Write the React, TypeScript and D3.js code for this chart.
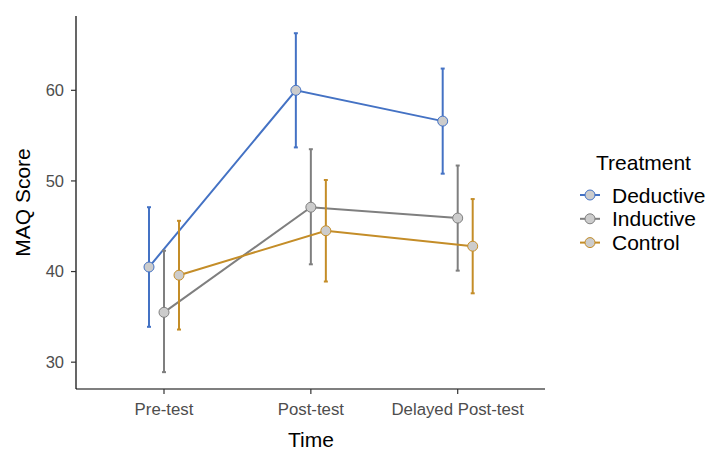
import React from "react";
import * as d3 from "d3";

const times = ["Pre-test", "Post-test", "Delayed Post-test"];
const groups = ["Deductive", "Inductive", "Control"];
const colors = ["#4472c4", "#7f7f7f", "#c48d28"];

const means = [
  [40.5, 60.0, 56.6],
  [35.5, 47.1, 45.9],
  [39.6, 44.5, 42.8],
];
const upper = [
  [47.1, 66.3, 62.4],
  [42.3, 53.5, 51.7],
  [45.6, 50.1, 48.0],
];
const lower = [
  [33.9, 53.7, 50.8],
  [28.9, 40.8, 40.1],
  [33.6, 38.9, 37.6],
];
const yTicks = [30, 40, 50, 60];

const W = 708;
const H = 450;
const left = 76;
const right = 545;
const top = 16;
const bottom = 389;
const font = "'Liberation Sans', Arial, sans-serif";

export default function App() {
  const x = d3.scalePoint<string>().domain(times).range([164, 457.7]);
  const y = d3.scaleLinear().domain([27.04, 68.2]).range([bottom, top]);
  const dodge = d3.scalePoint<string>().domain(groups).range([-15, 15]);
  const line = d3
    .line<number>()
    .x((_, i) => x(times[i])!)
    .y((d) => y(d));

  return (
    <svg width={W} height={H} style={{ position: "absolute", left: 0, top: 0 }}>
      <rect width={W} height={H} fill="#fff" />
      {groups.map((g, gi) => {
        const dx = dodge(g)!;
        return (
          <g key={g} transform={`translate(${dx},0)`}>
            <path d={line(means[gi])!} fill="none" stroke={colors[gi]} strokeWidth={2} />
            {times.map((t, ti) => (
              <g key={t} stroke={colors[gi]} strokeWidth={2}>
                <line x1={x(t)} x2={x(t)} y1={y(lower[gi][ti])} y2={y(upper[gi][ti])} />
                <line x1={x(t)! - 2} x2={x(t)! + 2} y1={y(lower[gi][ti])} y2={y(lower[gi][ti])} />
                <line x1={x(t)! - 2} x2={x(t)! + 2} y1={y(upper[gi][ti])} y2={y(upper[gi][ti])} />
              </g>
            ))}
            {times.map((t, ti) => (
              <circle
                key={t}
                cx={x(t)}
                cy={y(means[gi][ti])}
                r={5}
                fill="#cccccc"
                stroke={colors[gi]}
                strokeWidth={1}
              />
            ))}
          </g>
        );
      })}
      <line x1={left} x2={left} y1={top} y2={bottom} stroke="#000" strokeWidth={1.2} />
      <line x1={left} x2={right} y1={bottom} y2={bottom} stroke="#000" strokeWidth={1.2} />
      {yTicks.map((t) => (
        <g key={t}>
          <line x1={left - 5} x2={left} y1={y(t)} y2={y(t)} stroke="#333" strokeWidth={1.2} />
          <text
            x={left - 12}
            y={y(t)}
            dy="0.36em"
            textAnchor="end"
            fontFamily={font}
            fontSize={16.5}
            fill="#4d4d4d"
          >
            {t}
          </text>
        </g>
      ))}
      {times.map((t) => (
        <g key={t}>
          <line x1={x(t)} x2={x(t)} y1={bottom} y2={bottom + 5} stroke="#333" strokeWidth={1.2} />
          <text
            x={x(t)}
            y={bottom + 26}
            textAnchor="middle"
            fontFamily={font}
            fontSize={16.8}
            fill="#4d4d4d"
          >
            {t}
          </text>
        </g>
      ))}
      <text x={(left + right) / 2 + 0.5} y={447} textAnchor="middle" fontFamily={font} fontSize={21} fill="#000">
        Time
      </text>
      <text
        transform={`translate(30,${(top + bottom) / 2}) rotate(-90)`}
        textAnchor="middle"
        fontFamily={font}
        fontSize={21}
        fill="#000"
      >
        MAQ Score
      </text>
      <text x={596} y={170} fontFamily={font} fontSize={21} fill="#000">
        Treatment
      </text>
      {groups.map((g, gi) => {
        const cy = 195 + gi * 23.8;
        return (
          <g key={g}>
            <line x1={580} x2={600} y1={cy} y2={cy} stroke={colors[gi]} strokeWidth={2} />
            <circle cx={590} cy={cy} r={5} fill="#cccccc" stroke={colors[gi]} strokeWidth={1} />
            <text x={612} y={cy} dy="0.36em" fontFamily={font} fontSize={21} fill="#000">
              {g}
            </text>
          </g>
        );
      })}
    </svg>
  );
}
